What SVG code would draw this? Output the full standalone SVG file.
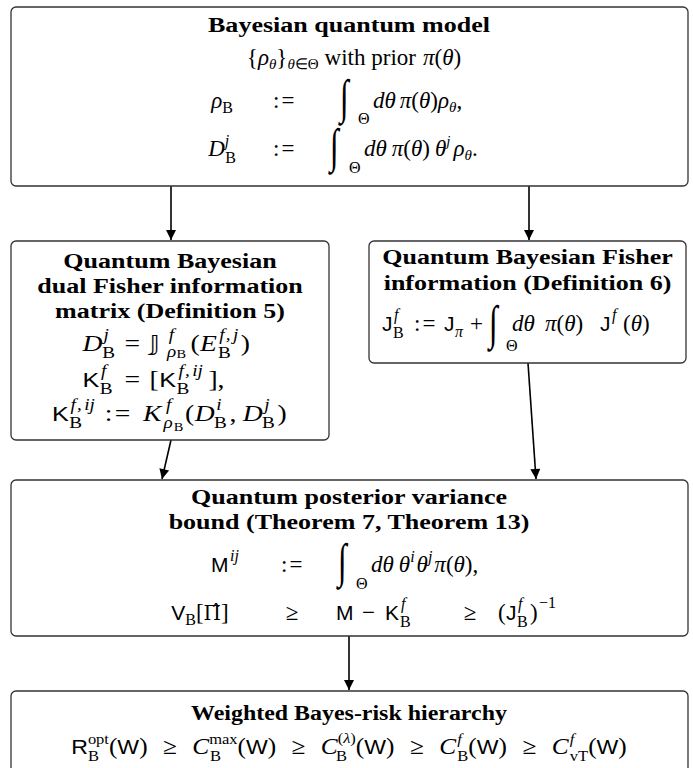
<svg xmlns="http://www.w3.org/2000/svg" width="693" height="768" viewBox="0 0 693 768">
<defs>
<marker id="ah" viewBox="0 0 10 10" refX="10" refY="5" markerWidth="14" markerHeight="10" markerUnits="userSpaceOnUse" orient="auto">
<path d="M0,0 L10,5 L0,10 z" fill="#000"/>
</marker>
<style>
.box{fill:#fff;stroke:#333;stroke-width:1.3}
.t{font-family:"Liberation Serif",serif;font-weight:bold;font-size:21px;text-anchor:middle;fill:#000}
.m{font-family:"Liberation Serif",serif;font-size:23px;fill:#000}
.sc{font-family:"Liberation Serif",serif;font-size:16px;fill:#000}
.ss{font-family:"Liberation Serif",serif;font-size:12px;fill:#000}
.i{font-style:italic}
.sf{font-family:"Liberation Sans",sans-serif;font-style:normal;font-size:21px;fill:#000}
.c{text-anchor:middle}
.ce{letter-spacing:2px}
.int{font-family:"Liberation Serif",serif;font-size:32px;font-style:italic;fill:#000}
.bb{font-family:"DejaVu Sans","DejaVu Serif","Noto Sans",sans-serif;font-size:22px;fill:#000}
.conn line{stroke:#000;stroke-width:1.6;marker-end:url(#ah)}
</style>
</defs>
<rect width="693" height="768" fill="#fff"/>

<g class="conn" id="connectors">
<line x1="171" y1="186" x2="171" y2="240"/>
<line x1="529" y1="186" x2="529" y2="240"/>
<line x1="171" y1="440" x2="162" y2="479"/>
<line x1="528" y1="363" x2="536" y2="479"/>
<line x1="349" y1="636" x2="349" y2="690"/>
</g>

<g id="n1">
<rect class="box" x="11" y="7" width="677" height="179" rx="5"/>
<text class="t" transform="translate(349,32) scale(1.24,1)">Bayesian quantum model</text>
<text class="m c" x="354" y="65">{<tspan class="i">ρ</tspan><tspan class="i" font-size="15" dy="4">θ</tspan><tspan dy="-4">}</tspan><tspan font-size="15" dy="4"><tspan class="i">θ</tspan>∈Θ</tspan><tspan dy="-4" dx="6">with prior</tspan><tspan class="i" dx="7">π</tspan>(<tspan class="i">θ</tspan>)</text>
<text class="m c" x="222" y="108"><tspan class="i">ρ</tspan><tspan font-size="16" dy="5">B</tspan></text>
<text class="m ce" x="273" y="108">:=</text>
<text class="int" transform="translate(340,113) scale(1,1.5)">∫</text>
<text class="sc" x="358" y="124" font-size="15">Θ</text>
<text class="m" x="373" y="108"><tspan class="i">dθ</tspan><tspan class="i" dx="4">π</tspan>(<tspan class="i">θ</tspan>)<tspan class="i">ρ</tspan><tspan class="i" font-size="15" dy="4">θ</tspan><tspan dy="-4">,</tspan></text>
<text class="m c" x="222" y="156"><tspan class="i">D</tspan><tspan class="i" font-size="16" dy="-10">j</tspan><tspan font-size="16" dx="-4" dy="17">B</tspan></text>
<text class="m ce" x="273" y="156">:=</text>
<text class="int" transform="translate(330,162) scale(1,1.5)">∫</text>
<text class="sc" x="349" y="173" font-size="15">Θ</text>
<text class="m" x="364" y="156"><tspan class="i">dθ</tspan><tspan class="i" dx="5">π</tspan>(<tspan class="i">θ</tspan>)<tspan class="i" dx="5">θ</tspan><tspan class="i" font-size="15" dy="-10">j</tspan><tspan class="i" dx="3" dy="10">ρ</tspan><tspan class="i" font-size="15" dy="4">θ</tspan><tspan dy="-4">.</tspan></text>
</g>

<g id="n2">
<rect class="box" x="11" y="241" width="318" height="199" rx="5"/>
<text class="t" transform="translate(170,268) scale(1.24,1)">Quantum Bayesian</text>
<text class="t" transform="translate(170,293) scale(1.24,1)">dual Fisher information</text>
<text class="t" transform="translate(170,318) scale(1.24,1)">matrix (Definition 5)</text>
<g transform="matrix(1.2,0,0,1,-23.2,0)">
<text class="m i" x="88" y="351">D</text>
<text class="sc i" x="105.5" y="340">j</text>
<text class="sc" x="104.5" y="358">B</text>
<text class="m" x="123" y="351">=</text>
<text class="bb" x="144" y="351">𝕁</text>
<text class="sc i" x="160" y="340">f</text>
<text class="sc i" x="158.5" y="357.5">ρ</text>
<text class="ss" x="166.5" y="358.5">B</text>
<text class="m" x="178" y="351">(</text>
<text class="m i" x="186" y="351">E</text>
<text class="sc i" x="202" y="340">f<tspan dx="1">,</tspan><tspan dx="2">j</tspan></text>
<text class="sc" x="201" y="358">B</text>
<text class="m" x="220" y="351">)</text>
<text class="sf" x="88" y="387">K</text>
<text class="sc i" x="103.5" y="376.5">f</text>
<text class="sc" x="102.5" y="394">B</text>
<text class="m" x="123" y="387">=</text>
<text class="m" x="144" y="387">[</text>
<text class="sf" x="152" y="387">K</text>
<text class="sc i" x="168" y="376.5">f<tspan dx="1">,</tspan><tspan dx="2">ij</tspan></text>
<text class="sc" x="166.5" y="394">B</text>
<text class="m" x="193" y="387">],</text>
</g>
<g transform="matrix(1.2,0,0,1,-15.3,0)">
<text class="sf" x="56" y="421">K</text>
<text class="sc i" x="71.5" y="410">f<tspan dx="1">,</tspan><tspan dx="2">ij</tspan></text>
<text class="sc" x="70.5" y="428">B</text>
<text class="m ce" x="100" y="421">:=</text>
<text class="m i" x="132" y="421">K</text>
<text class="sc i" x="151" y="410">f</text>
<text class="sc i" x="149" y="428">ρ</text>
<text class="ss" x="157.5" y="431">B</text>
<text class="m" x="167" y="421">(</text>
<text class="m i" x="175" y="421">D</text>
<text class="sc i" x="193" y="410">i</text>
<text class="sc" x="191" y="428">B</text>
<text class="m" x="204" y="421">,</text>
<text class="m i" x="215" y="421">D</text>
<text class="sc i" x="233" y="410">j</text>
<text class="sc" x="231" y="428">B</text>
<text class="m" x="244" y="421">)</text>
</g>
</g>

<g id="n3">
<rect class="box" x="369" y="241" width="317" height="122" rx="5"/>
<text class="t" transform="translate(527.5,264) scale(1.24,1)">Quantum Bayesian Fisher</text>
<text class="t" transform="translate(527.5,290) scale(1.24,1)">information (Definition 6)</text>
<text class="sf" x="382" y="331">J</text>
<text class="sc i" x="394" y="320">f</text>
<text class="sc" x="393" y="338">B</text>
<text class="m ce" x="414" y="331">:=</text>
<text class="sf" x="444" y="331">J</text>
<text class="sc i" x="455" y="337">π</text>
<text class="m" x="470" y="331">+</text>
<text class="int" transform="translate(489,339) scale(1,1.5)">∫</text>
<text class="sc" x="506" y="351" font-size="15">Θ</text>
<text class="m i" x="512" y="331">dθ</text>
<text class="m" x="545" y="331"><tspan class="i">π</tspan>(<tspan class="i">θ</tspan>)</text>
<text class="sf" x="600" y="331">J</text>
<text class="sc i" x="612" y="320">f</text>
<text class="m" x="623" y="331">(<tspan class="i">θ</tspan>)</text>
</g>

<g id="n4">
<rect class="box" x="11" y="480" width="677" height="156" rx="5"/>
<text class="t" transform="translate(349,504) scale(1.24,1)">Quantum posterior variance</text>
<text class="t" transform="translate(349,529) scale(1.24,1)">bound (Theorem 7, Theorem 13)</text>
<text class="sf" x="211" y="572">M</text>
<text class="sc i" x="230" y="561">ij</text>
<text class="m ce" x="281" y="572">:=</text>
<text class="int" transform="translate(338,577) scale(1,1.5)">∫</text>
<text class="sc" x="356" y="589" font-size="15">Θ</text>
<text class="m" x="371" y="572"><tspan class="i">dθ</tspan><tspan class="i" dx="5">θ</tspan><tspan class="i" font-size="16" dy="-10">i</tspan><tspan class="i" dx="2" dy="10">θ</tspan><tspan class="i" font-size="16" dy="-10">j</tspan><tspan class="i" dx="2" dy="10">π</tspan>(<tspan class="i">θ</tspan>),</text>
<text class="m c" x="200" y="620"><tspan class="sf">V</tspan><tspan font-size="16" dy="5">B</tspan><tspan dy="-5">[</tspan><tspan font-family="DejaVu Serif" font-size="20">Π̂</tspan>]</text>
<text class="m c" x="292" y="620">≥</text>
<text class="sf" x="336" y="620">M</text>
<text class="m" x="362" y="620">−</text>
<text class="sf" x="385" y="620">K</text>
<text class="sc i" x="401" y="609">f</text>
<text class="sc" x="400" y="627">B</text>
<text class="m c" x="470" y="620">≥</text>
<text class="m" x="498" y="620">(</text>
<text class="sf" x="506" y="620">J</text>
<text class="sc i" x="518" y="609">f</text>
<text class="sc" x="517" y="627">B</text>
<text class="m" x="530" y="620">)</text>
<text class="sc" x="539" y="608">−1</text>
</g>

<g id="n5">
<rect class="box" x="11" y="691" width="677" height="100" rx="5"/>
<text class="t" transform="translate(349,720) scale(1.14,1)">Weighted Bayes-risk hierarchy</text>
<g transform="matrix(1.1,0,0,1,-34.9,0)">
<text class="m c" x="349" y="754"><tspan class="sf">R</tspan><tspan font-size="15" dy="-10">opt</tspan><tspan font-size="15" dx="-19" dy="17">B</tspan><tspan dx="9" dy="-7">(</tspan><tspan class="sf">W</tspan>)<tspan dx="14">≥</tspan><tspan dx="14" class="i">C</tspan><tspan font-size="15" dy="-10">max</tspan><tspan font-size="15" dx="-25" dy="17">B</tspan><tspan dx="15" dy="-7">(</tspan><tspan class="sf">W</tspan>)<tspan dx="14">≥</tspan><tspan dx="14" class="i">C</tspan><tspan font-size="15" dy="-11">(<tspan class="i">λ</tspan>)</tspan><tspan font-size="15" dx="-18" dy="18">B</tspan><tspan dx="8" dy="-7">(</tspan><tspan class="sf">W</tspan>)<tspan dx="14">≥</tspan><tspan dx="14" class="i">C</tspan><tspan class="i" font-size="15" dy="-10" dx="1">f</tspan><tspan font-size="15" dx="-4" dy="17">B</tspan><tspan dy="-7">(</tspan><tspan class="sf">W</tspan>)<tspan dx="14">≥</tspan><tspan dx="14" class="i">C</tspan><tspan class="i" font-size="15" dy="-10" dx="1">f</tspan><tspan font-size="15" dx="-4" dy="17">vT</tspan><tspan dy="-7">(</tspan><tspan class="sf">W</tspan>)</text>
</g>
</g>
</svg>
